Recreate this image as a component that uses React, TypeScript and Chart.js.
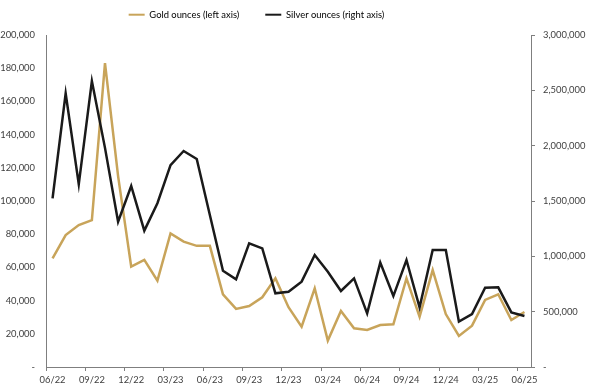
import React, { useEffect, useRef } from "react";
import { Chart, registerables } from "chart.js";

Chart.register(...registerables);

const months: string[] = [
  "06/22","07/22","08/22","09/22","10/22","11/22","12/22","01/23","02/23","03/23","04/23","05/23",
  "06/23","07/23","08/23","09/23","10/23","11/23","12/23","01/24","02/24","03/24","04/24","05/24",
  "06/24","07/24","08/24","09/24","10/24","11/24","12/24","01/25","02/25","03/25","04/25","05/25","06/25",
];

const goldOunces: number[] = [
  65500, 79500, 85500, 88500, 183000, 115000, 60500, 64500, 52000, 80500, 75500, 73000,
  73000, 43800, 35000, 36700, 42000, 53400, 36000, 24300, 47400, 15900, 33700, 23300,
  22300, 25300, 25700, 53400, 30300, 58400, 31900, 18700, 24900, 40400, 43800, 28300, 33100,
];

const silverOunces: number[] = [
  1524000, 2473000, 1651000, 2584000, 1980000, 1313000, 1636000, 1232000, 1480000, 1825000, 1952000, 1880000,
  1373000, 870000, 792000, 1118000, 1072000, 666000, 680000, 771000, 1012000, 861000, 687000, 801000,
  485000, 943000, 641000, 967000, 539000, 1057000, 1057000, 410000, 479000, 717000, 720000, 494000, 461000,
];

const legendLabels: string[] = ["Gold ounces (left axis)", "Silver ounces (right axis)"];

const GOLD = "#C8A45A";
const SILVER = "#1A1A1A";
const AXIS = "#7F7F7F";
const TEXT = "#404040";
const FONT = "Lato, 'Liberation Sans', sans-serif";
const FS = 9.4;

function fmt(v: number): string {
  if (v === 0) return "-";
  return v.toLocaleString("en-US");
}

export default function App() {
  const ref = useRef<HTMLCanvasElement | null>(null);

  useEffect(() => {
    document.body.style.margin = "0";
    const canvas = ref.current;
    if (!canvas) return;
    const legendFix = {
      id: "legendFix",
      beforeInit(chart: any) {
        const lg = chart.legend;
        if (lg) {
          const orig = lg.fit;
          lg.fit = function () {
            orig.call(this);
            this.height = 35;
          };
        }
      },
      afterLayout(chart: any) {
        const lg = chart.legend;
        if (lg) {
          lg.left -= 80;
          lg.top -= 16;
        }
      },
    };
    const chart = new Chart(canvas, {
      type: "line",
      data: {
        labels: months,
        datasets: [
          {
            label: legendLabels[0],
            data: goldOunces,
            borderColor: GOLD,
            backgroundColor: GOLD,
            borderWidth: 2.5,
            pointRadius: 0,
            tension: 0,
            yAxisID: "y",
            order: 1,
          },
          {
            label: legendLabels[1],
            data: silverOunces,
            borderColor: SILVER,
            backgroundColor: SILVER,
            borderWidth: 2.5,
            pointRadius: 0,
            tension: 0,
            yAxisID: "y1",
            order: 0,
          },
        ],
      },
      options: {
        animation: false,
        responsive: false,
        maintainAspectRatio: false,
        layout: { padding: 0 },
        plugins: {
          tooltip: { enabled: false },
          legend: {
            position: "top",
            align: "center",
            labels: {
              font: { family: FONT, size: 9.4 },
              color: "#262626",
              padding: 26,
              boxWidth: 16,
              boxHeight: 2,
              generateLabels: () => [
                { text: legendLabels[0], fillStyle: GOLD, strokeStyle: GOLD, lineWidth: 0, datasetIndex: 0, hidden: false },
                { text: legendLabels[1], fillStyle: SILVER, strokeStyle: SILVER, lineWidth: 0, datasetIndex: 1, hidden: false },
              ] as any,
            },
          },
        },
        scales: {
          x: {
            type: "category",
            offset: true,
            afterFit: (s: any) => { s.height = 24; },
            grid: {
              display: true,
              drawOnChartArea: false,
              drawTicks: true,
              tickLength: 4,
              offset: true,
              color: (c: any) => (c.index % 3 === 0 ? AXIS : "rgba(0,0,0,0)"),
            },
            border: { display: true, color: AXIS, width: 1 },
            ticks: {
              autoSkip: false,
              maxRotation: 0,
              minRotation: 0,
              padding: 3,
              color: TEXT,
              font: { family: FONT, size: FS },
              callback: (_v: any, i: number) => (i % 3 === 0 ? months[i] : ""),
            },
          },
          y: {
            type: "linear",
            position: "left",
            min: 0,
            max: 200000,
            afterFit: (s: any) => { s.width = 46; },
            grid: { display: true, drawOnChartArea: false, drawTicks: false },
            border: { display: true, color: AXIS, width: 1 },
            ticks: {
              stepSize: 20000,
              padding: 11,
              color: TEXT,
              font: { family: FONT, size: FS },
              callback: (v: any) => fmt(Number(v)),
            },
          },
          y1: {
            type: "linear",
            position: "right",
            min: 0,
            max: 3000000,
            afterFit: (s: any) => { s.width = 62; },
            grid: { display: true, drawOnChartArea: false, drawTicks: true, tickLength: 4, color: AXIS },
            border: { display: true, color: AXIS, width: 1 },
            ticks: {
              stepSize: 500000,
              padding: 8,
              color: TEXT,
              font: { family: FONT, size: FS },
              callback: (v: any) => fmt(Number(v)),
            },
          },
        },
      } as any,
      plugins: [legendFix],
    });
    return () => chart.destroy();
  }, []);

  return (
    <div style={{ width: 593, height: 391, background: "#fff" }}>
      <canvas ref={ref} width={593} height={391} style={{ display: "block", width: 593, height: 391 }} />
    </div>
  );
}
